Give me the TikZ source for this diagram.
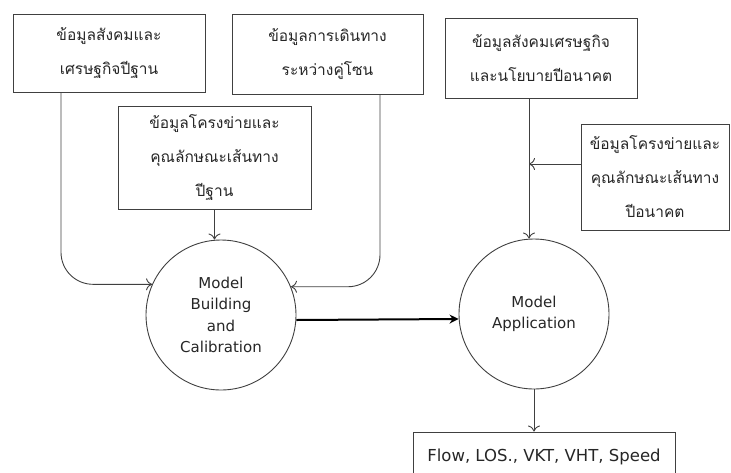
\documentclass[tikz,border=0pt]{standalone}
\usepackage{fontspec}
\setmainfont{DejaVu Sans}
\newfontfamily\thaifont[Script=Thai]{Loma}
\usetikzlibrary{arrows.meta}
\tikzset{
        databox/.style={draw=black!75, line width=0.9pt, text=black!85, align=center, inner sep=0pt,
          font=\thaifont\fontsize{15.5}{34}\selectfont},
        process/.style={circle, draw=black!75, line width=0.9pt, text=black!85, align=center, inner sep=0pt,
          minimum size=150pt, font=\fontsize{15}{21.5}\selectfont},
        flow/.style={draw=black!75, line width=0.9pt, -{To[length=6pt,width=12pt]}},
        mainflow/.style={draw=black, line width=2pt, -{Stealth[length=9pt,width=9pt]}},
        outbox/.style={draw=black!75, line width=0.9pt, text=black!85, inner sep=0pt,
          minimum width=262pt, minimum height=50pt, font=\fontsize{16.5}{18}\selectfont}
          }
\begin{document}
\begin{tikzpicture}[x=1pt,y=-1pt]
        \useasboundingbox (0,0) rectangle (731,472);
        % base-year inputs
        \node[databox, minimum width=192pt, minimum height=78pt] (socbase) at (109,53)
          {ข้อมูลสังคมและ\\เศรษฐกิจปีฐาน};
        \node[databox, minimum width=191pt, minimum height=80pt] (trip) at (327.5,54)
          {ข้อมูลการเดินทาง\\ระหว่างคู่โซน};
        \node[databox, minimum width=193pt, minimum height=103pt] (netbase) at (214.5,158)
          {ข้อมูลโครงข่ายและ\\คุณลักษณะเส้นทาง\\ปีฐาน};
        % future inputs
        \node[databox, minimum width=192pt, minimum height=80pt] (socfut) at (541,58)
          {ข้อมูลสังคมเศรษฐกิจ\\และนโยบายปีอนาคต};
        \node[databox, minimum width=148pt, minimum height=106pt] (netfut) at (655,177)
          {ข้อมูลโครงข่ายและ\\คุณลักษณะเส้นทาง\\ปีอนาคต};
        % models
        \node[process] (calib) at (221,315) {Model\\Building\\and\\Calibration};
        \node[process] (apply) at (534,314) {Model\\Application};
        \node[outbox] (result) at (544,457) {Flow, LOS., VKT, VHT, Speed};
        \coordinate (tap) at (529,164);
        \draw[flow, rounded corners=32pt] ([xshift=-48pt]socbase.south) |- (calib.156);
        \draw[flow, rounded corners=32pt] ([xshift=52.5pt]trip.south) |- (calib.22);
        \draw[flow] (netbase.south) -- (netbase.south |- calib.north);
        \draw[mainflow] ([yshift=-5pt]calib.east) -- ([yshift=-5pt]apply.west);
        \draw[flow] (socfut.south -| tap) -- (tap |- apply.north);
        \draw[flow] (netfut.west |- tap) -- (tap);
        \draw[flow] (apply.south) -- (apply.south |- result.north);
\end{tikzpicture}
\end{document}
